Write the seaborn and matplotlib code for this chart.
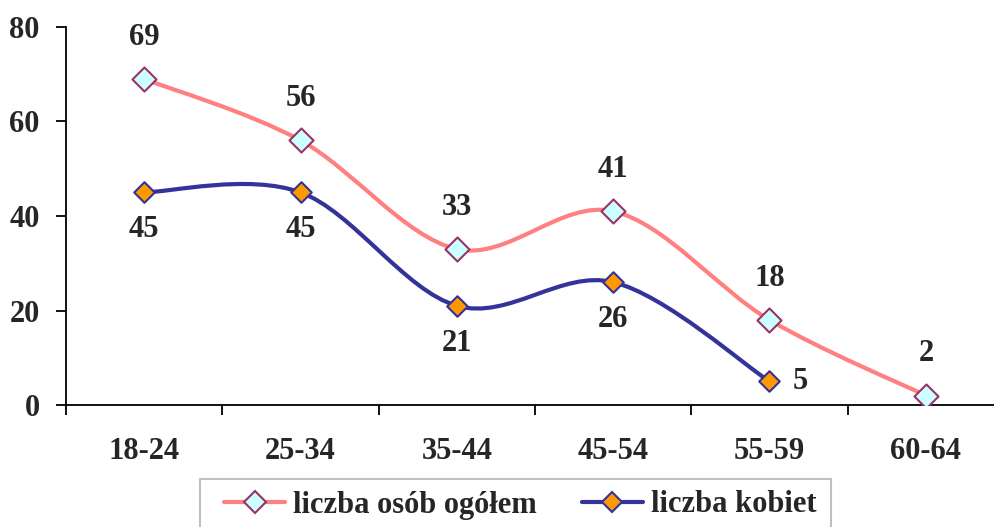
import numpy as np
import pandas as pd
import matplotlib
matplotlib.use("Agg")
import matplotlib.pyplot as plt
import seaborn as sns
from matplotlib.path import Path
from matplotlib.patches import PathPatch, Rectangle
from matplotlib.lines import Line2D

# dane
grupy = ['18-24', '25-34', '35-44', '45-54', '55-59', '60-64']
ogolem = [69, 56, 33, 41, 18, 2]
kobiety = [45, 45, 21, 26, 5]

sns.set_style("white")
plt.rcParams['font.family'] = ['Liberation Serif', 'DejaVu Serif']
plt.rcParams['font.weight'] = 'bold'

df1 = pd.DataFrame({'x': range(len(ogolem)), 'y': ogolem})
df2 = pd.DataFrame({'x': range(len(kobiety)), 'y': kobiety})


def smooth_path(xs, ys):
    # wygladzona linia jak w Excelu (Bezier przez punkty)
    p = np.column_stack([xs, ys]).astype(float)
    pts = np.vstack([p[0], p, p[-1]])
    verts = [p[0]]
    codes = [Path.MOVETO]
    for i in range(1, len(pts) - 2):
        c1 = pts[i] + (pts[i + 1] - pts[i - 1]) / 6
        c2 = pts[i + 1] - (pts[i + 2] - pts[i]) / 6
        verts += [c1, c2, pts[i + 1]]
        codes += [Path.CURVE4] * 3
    return Path(verts, codes)


fig = plt.figure(figsize=(9.95, 5.27), dpi=100)
ax = fig.add_axes([66 / 995, 1 - 405 / 527, (1004 - 66) / 995, (405 - 27) / 527])

ax.add_patch(PathPatch(smooth_path(df1.x, df1.y), facecolor='none',
                       edgecolor='#FF8080', lw=3, zorder=2))
ax.add_patch(PathPatch(smooth_path(df2.x, df2.y), facecolor='none',
                       edgecolor='#333399', lw=3, zorder=2))

sns.scatterplot(data=df1, x='x', y='y', marker='D', s=150, color='#CCFFFF',
                edgecolor='#993366', linewidth=1.5, ax=ax, zorder=3)
sns.scatterplot(data=df2, x='x', y='y', marker='D', s=110, color='#FF9900',
                edgecolor='#333399', linewidth=1.5, ax=ax, zorder=3)

fs = 22
for x, y in zip(df1.x, df1.y):
    ax.annotate(str(y), (x, y), xytext=(0, 30), textcoords='offset points',
                ha='center', va='center', fontsize=fs, fontweight='bold')
for x, y in zip(df2.x, df2.y):
    if x == len(kobiety) - 1:
        ax.annotate(str(y), (x, y), xytext=(22, 0), textcoords='offset points',
                    ha='center', va='center', fontsize=fs, fontweight='bold')
    else:
        ax.annotate(str(y), (x, y), xytext=(0, -27), textcoords='offset points',
                    ha='center', va='center', fontsize=fs, fontweight='bold')

ax.set_xlim(-0.5, 5.5)
ax.set_ylim(0, 80)
ax.set_yticks([0, 20, 40, 60, 80])
ax.set_xticks(range(len(grupy)))
ax.set_xticklabels(grupy)
ax.set_xticks(np.arange(-0.5, 6, 1), minor=True)
ax.set_xlabel('')
ax.set_ylabel('')
ax.tick_params(axis='x', which='major', length=0, pad=23, labelsize=fs)
ax.tick_params(axis='x', which='minor', length=7, width=1.3, direction='out',
               bottom=True, color='black')
ax.tick_params(axis='y', length=7, width=1.3, direction='out', left=True,
               pad=12, labelsize=fs, color='black')
for lab in ax.get_xticklabels() + ax.get_yticklabels():
    lab.set_fontweight('bold')

for s in ['top', 'right']:
    ax.spines[s].set_visible(False)
for s in ['left', 'bottom']:
    ax.spines[s].set_color('black')
    ax.spines[s].set_linewidth(1.3)

if ax.get_legend():
    ax.get_legend().remove()

# ramka legendy
fig.patches.append(Rectangle((200 / 995, -0.05), (831 - 200) / 995, 1 - 479 / 527 + 0.05,
                             transform=fig.transFigure, facecolor='white',
                             edgecolor='#C0C0C0', lw=1.5, zorder=0))

h1 = Line2D([], [], color='#FF8080', lw=3, marker='D', markersize=11,
            markerfacecolor='#CCFFFF', markeredgecolor='#993366', markeredgewidth=1.5)
h2 = Line2D([], [], color='#333399', lw=3, marker='D', markersize=10,
            markerfacecolor='#FF9900', markeredgecolor='#333399', markeredgewidth=1.5)
leg = fig.legend([h1, h2], ['liczba osób ogółem', 'liczba kobiet'], ncol=2,
                 loc='center left', bbox_to_anchor=(224 / 995, 1 - 505 / 527),
                 frameon=False, prop={'size': fs, 'weight': 'bold'},
                 handlelength=2.0, handletextpad=0.26, columnspacing=1.47,
                 borderpad=0, borderaxespad=0)

fig.savefig('out.png', dpi=100)
